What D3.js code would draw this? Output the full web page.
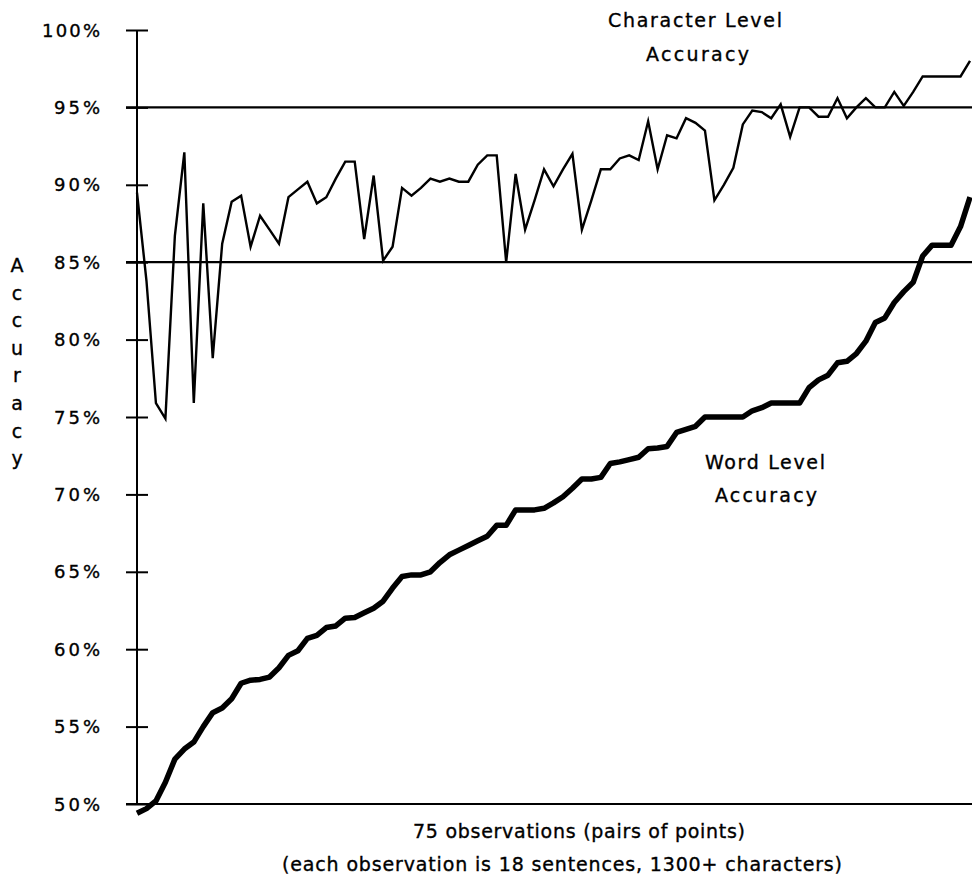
<!DOCTYPE html>
<html>
<head>
<meta charset="utf-8">
<script src="https://cdn.jsdelivr.net/npm/d3@7"></script>
<style>
  html, body { margin: 0; padding: 0; background: #fff; }
  svg { display: block; }
  text { font-family: "DejaVu Sans", "Liberation Sans", sans-serif; fill: #000; stroke: #000; stroke-width: 0.35px; }
</style>
</head>
<body>
<svg id="chart" width="972" height="877"></svg>
<script>
// ---- data ----
const observations = d3.range(89); // observation index (pairs of points)

const charAccuracy = [
  89.5, 83.8, 75.9, 74.9, 86.7, 92.1, 75.9, 88.8, 78.8, 86.2,
  88.9, 89.3, 86.0, 88.0, 87.1, 86.2, 89.2, 89.7, 90.2, 88.8,
  89.2, 90.4, 91.5, 91.5, 86.5, 90.6, 85.1, 86.0, 89.8, 89.3,
  89.8, 90.4, 90.2, 90.4, 90.2, 90.2, 91.3, 91.9, 91.9, 85.0,
  90.7, 87.1, 89.0, 91.0, 89.9, 91.0, 92.0, 87.1, 89.0, 91.0,
  91.0, 91.7, 91.9, 91.6, 94.1, 91.0, 93.2, 93.0, 94.3, 94.0,
  93.5, 89.0, 90.0, 91.1, 93.9, 94.8, 94.7, 94.3, 95.2, 93.1,
  95.0, 95.0, 94.4, 94.4, 95.6, 94.3, 95.0, 95.6, 95.0, 95.0,
  96.0, 95.1, 96.0, 97.0, 97.0, 97.0, 97.0, 97.0, 98.0
];

const wordAccuracy = [
  49.4, 49.7, 50.2, 51.4, 52.9, 53.55, 54.0, 55.0, 55.9, 56.2,
  56.8, 57.8, 58.0, 58.05, 58.2, 58.8, 59.6, 59.9, 60.7, 60.9,
  61.4, 61.5, 62.0, 62.05, 62.35, 62.65, 63.1, 63.95, 64.7, 64.8,
  64.8, 65.0, 65.6, 66.1, 66.4, 66.7, 67.0, 67.3, 68.0, 68.0,
  69.0, 69.0, 69.0, 69.1, 69.45, 69.85, 70.4, 71.0, 71.0, 71.1,
  72.0, 72.1, 72.25, 72.4, 72.95, 73.0, 73.1, 74.0, 74.2, 74.4,
  75.0, 75.0, 75.0, 75.0, 75.0, 75.4, 75.6, 75.9, 75.9, 75.9,
  75.9, 76.9, 77.4, 77.7, 78.5, 78.6, 79.1, 79.9, 81.1, 81.4,
  82.4, 83.1, 83.7, 85.4, 86.1, 86.1, 86.1, 87.3, 89.2
];

const yTicks = [50, 55, 60, 65, 70, 75, 80, 85, 90, 95, 100];
const yTickLabels = ["50%", "55%", "60%", "65%", "70%", "75%", "80%", "85%", "90%", "95%", "100%"];
const referenceLines = [95, 85];
const yTitle = "Accuracy";
const charLabel = ["Character Level", "Accuracy"];
const wordLabel = ["Word Level", "Accuracy"];
const xLabels = ["75 observations (pairs of points)", "(each observation is 18 sentences, 1300+ characters)"];

// ---- drawing ----
const svg = d3.select("#chart");
svg.append("rect").attr("width", 972).attr("height", 877).attr("fill", "#fff");

const x = d3.scaleLinear().domain([0, observations.length - 1]).range([137, 970]);
const y = d3.scaleLinear().domain([50, 100]).range([804, 30]);

const axisX = x(0);
const rightEdge = 972;

// y axis via d3 axis (ticks crossing the axis line)
const yAxis = d3.axisLeft(y).tickValues(yTicks).tickSize(0).tickFormat("");
const gAxis = svg.append("g").attr("transform", `translate(${axisX},0)`).call(yAxis);
gAxis.select(".domain").remove();
gAxis.append("line")
  .attr("x1", 0).attr("x2", 0)
  .attr("y1", y(100)).attr("y2", y(50))
  .attr("stroke", "#000").attr("stroke-width", 2);
gAxis.selectAll(".tick line")
  .attr("x1", -11).attr("x2", 11)
  .attr("stroke", "#000").attr("stroke-width", 2);

// tick labels
svg.append("g").selectAll("text")
  .data(yTicks)
  .join("text")
  .attr("x", 100)
  .attr("y", d => y(d) + 6.5)
  .attr("text-anchor", "end")
  .attr("font-size", 18)
  .attr("textLength", (d, i) => yTickLabels[i].length === 4 ? 58 : 46)
  .attr("lengthAdjust", "spacing")
  .text((d, i) => yTickLabels[i]);

// reference lines (95%, 85%) and baseline (50%)
svg.append("g").selectAll("line")
  .data(referenceLines.concat([50]))
  .join("line")
  .attr("x1", axisX - 11).attr("x2", rightEdge)
  .attr("y1", d => y(d)).attr("y2", d => y(d))
  .attr("stroke", "#000").attr("stroke-width", 2.2);

// character level line
const charLine = d3.line().x((d, i) => x(observations[i])).y(d => y(d));
svg.append("path")
  .datum(charAccuracy)
  .attr("d", charLine)
  .attr("fill", "none")
  .attr("stroke", "#000")
  .attr("stroke-width", 2.4)
  .attr("stroke-linejoin", "miter")
  .attr("stroke-miterlimit", 6);

// word level line
const wordLine = d3.line().x((d, i) => x(observations[i])).y(d => y(d));
svg.append("path")
  .datum(wordAccuracy)
  .attr("d", wordLine)
  .attr("fill", "none")
  .attr("stroke", "#000")
  .attr("stroke-width", 5.5)
  .attr("stroke-linejoin", "round")
  .attr("stroke-linecap", "butt");

// annotations
function label(txt, cx, baseline, width, size) {
  svg.append("text")
    .attr("x", cx).attr("y", baseline)
    .attr("text-anchor", "middle")
    .attr("font-size", size)
    .attr("textLength", width)
    .attr("lengthAdjust", "spacing")
    .text(txt);
}
label(charLabel[0], 695, 27, 174, 19);
label(charLabel[1], 697.5, 61, 103, 19);
label(wordLabel[0], 765, 469, 120, 19);
label(wordLabel[1], 766, 502, 102, 19);
label(xLabels[0], 579, 838, 332, 19);
label(xLabels[1], 562, 871, 560, 19);

// vertical y-axis title, one letter per line
svg.append("g").selectAll("text")
  .data(yTitle.split(""))
  .join("text")
  .attr("x", 17)
  .attr("y", (d, i) => 272 + i * 27.6)
  .attr("text-anchor", "middle")
  .attr("font-size", 19)
  .text(d => d);
</script>
</body>
</html>
